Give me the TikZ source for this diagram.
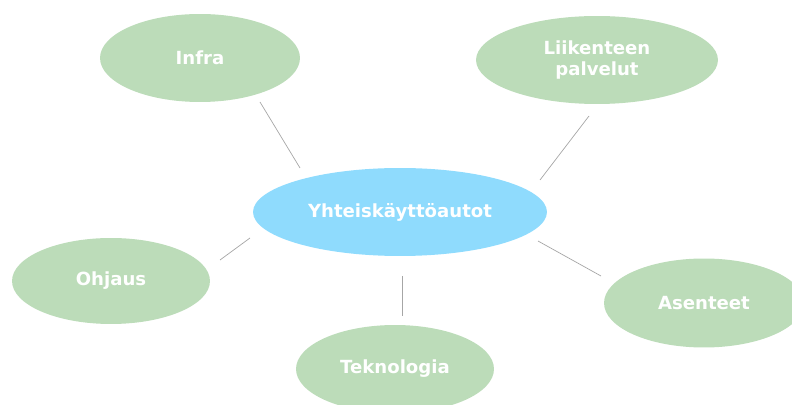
\documentclass[tikz,border=0pt]{standalone}
\usepackage{fontspec}
\setmainfont{DejaVu Sans}
\usetikzlibrary{shapes.geometric}
\definecolor{leaf}{HTML}{BCDCB9}
\definecolor{hub}{HTML}{8FDBFD}
\definecolor{spoke}{HTML}{A6A6A6}

\begin{document}
\begin{tikzpicture}[x=0.02cm,y=-0.02cm,
  topic/.style={ellipse,fill=leaf,text=white,font=\bfseries\fontsize{10.3}{12}\selectfont,align=center,inner sep=0pt},
  link/.style={draw=spoke,thin}]
\useasboundingbox (0,0) rectangle (792,405);
\clip (0,0) rectangle (792,405);
\node[topic,fill=hub,minimum width=5.88cm,minimum height=1.76cm] (hub) at (400,212) {Yhteiskäyttöautot};
\node[topic,minimum width=4cm,minimum height=1.76cm] (infra) at (200,58) {Infra};
\node[topic,minimum width=4.84cm,minimum height=1.76cm] (palvelut) at (597,60) {Liikenteen\\palvelut};
\node[topic,minimum width=3.96cm,minimum height=1.72cm] (ohjaus) at (111,281) {Ohjaus};
\node[topic,minimum width=4cm,minimum height=1.78cm] (asenteet) at (704,303) {Asenteet};
\node[topic,minimum width=3.96cm,minimum height=1.76cm] (tekno) at (395,369) {Teknologia};
% spokes stop short of the ellipses
\coordinate (i1) at (260,102); \coordinate (i2) at (300,168);
\coordinate (p1) at (589,116); \coordinate (p2) at (540,180);
\coordinate (o1) at (220,260); \coordinate (o2) at (250,238);
\coordinate (a1) at (538,241); \coordinate (a2) at (601,276);
\coordinate (t1) at (402,276); \coordinate (t2) at (402,316);
\draw[link] (i1) -- (i2);
\draw[link] (p1) -- (p2);
\draw[link] (o1) -- (o2);
\draw[link] (a1) -- (a2);
\draw[link] (t1) -- (t2);
\end{tikzpicture}
\end{document}
